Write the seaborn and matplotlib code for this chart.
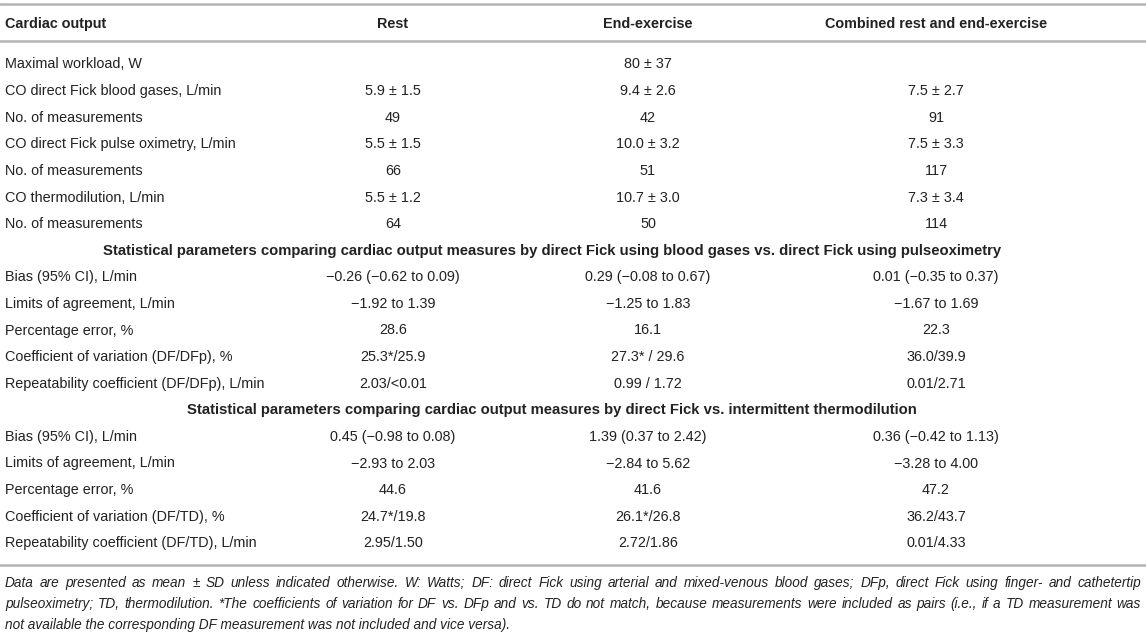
import matplotlib.pyplot as plt
import seaborn as sns

# table content
col_titles = ["Cardiac output", "Rest", "End-exercise", "Combined rest and end-exercise"]
row_labels = [
    "Maximal workload, W",
    "CO direct Fick blood gases, L/min",
    "No. of measurements",
    "CO direct Fick pulse oximetry, L/min",
    "No. of measurements",
    "CO thermodilution, L/min",
    "No. of measurements",
    "Statistical parameters comparing cardiac output measures by direct Fick using blood gases vs. direct Fick using pulseoximetry",
    "Bias (95% CI), L/min",
    "Limits of agreement, L/min",
    "Percentage error, %",
    "Coefficient of variation (DF/DFp), %",
    "Repeatability coefficient (DF/DFp), L/min",
    "Statistical parameters comparing cardiac output measures by direct Fick vs. intermittent thermodilution",
    "Bias (95% CI), L/min",
    "Limits of agreement, L/min",
    "Percentage error, %",
    "Coefficient of variation (DF/TD), %",
    "Repeatability coefficient (DF/TD), L/min",
]
rest_vals = ["", "5.9 ± 1.5", "49", "5.5 ± 1.5", "66", "5.5 ± 1.2", "64", None,
             "−0.26 (−0.62 to 0.09)", "−1.92 to 1.39", "28.6", "25.3*/25.9", "2.03/<0.01", None,
             "0.45 (−0.98 to 0.08)", "−2.93 to 2.03", "44.6", "24.7*/19.8", "2.95/1.50"]
end_vals = ["80 ± 37", "9.4 ± 2.6", "42", "10.0 ± 3.2", "51", "10.7 ± 3.0", "50", None,
            "0.29 (−0.08 to 0.67)", "−1.25 to 1.83", "16.1", "27.3* / 29.6", "0.99 / 1.72", None,
            "1.39 (0.37 to 2.42)", "−2.84 to 5.62", "41.6", "26.1*/26.8", "2.72/1.86"]
comb_vals = ["", "7.5 ± 2.7", "91", "7.5 ± 3.3", "117", "7.3 ± 3.4", "114", None,
             "0.01 (−0.35 to 0.37)", "−1.67 to 1.69", "22.3", "36.0/39.9", "0.01/2.71", None,
             "0.36 (−0.42 to 1.13)", "−3.28 to 4.00", "47.2", "36.2/43.7", "0.01/4.33"]
footnote = [
    "Data are presented as mean ± SD unless indicated otherwise. W: Watts; DF: direct Fick using arterial and mixed-venous blood gases; DFp, direct Fick using finger- and cathetertip",
    "pulseoximetry; TD, thermodilution. *The coefficients of variation for DF vs. DFp and vs. TD do not match, because measurements were included as pairs (i.e., if a TD measurement was",
    "not available the corresponding DF measurement was not included and vice versa).",
]

sns.set_theme(style="white")
plt.rcParams['font.family'] = ['Liberation Sans', 'DejaVu Sans']

W, H = 1146, 633
fig = plt.figure(figsize=(W / 100, H / 100), dpi=100)
ax = fig.add_axes([0, 0, 1, 1])
ax.set_xlim(0, W)
ax.set_ylim(H, 0)
ax.axis('off')

txt = '#222222'
rule = '#b4b4b4'
fs = 10.4
fs_head = 10.7

col_x = [5, 393, 648, 936]
ax.text(col_x[0], 24, col_titles[0], ha='left', va='center', fontsize=fs, weight='bold', color=txt)
for x, t in zip(col_x[1:], col_titles[1:]):
    ax.text(x, 24, t, ha='center', va='center', fontsize=fs, weight='bold', color=txt)

for yy in (4, 41, 565):
    ax.axhline(yy, color=rule, lw=1.8)

y0, dy = 64.5, 26.6
for i, lab in enumerate(row_labels):
    y = y0 + i * dy
    if rest_vals[i] is None:
        ax.text(552, y, lab, ha='center', va='center', fontsize=fs_head, weight='bold', color=txt)
        continue
    ax.text(col_x[0], y, lab, ha='left', va='center', fontsize=fs, color=txt)
    for x, v in zip(col_x[1:], (rest_vals[i], end_vals[i], comb_vals[i])):
        ax.text(x, y, v, ha='center', va='center', fontsize=fs, color=txt)

# footnote, first two lines justified to the table width
fig.canvas.draw()
rend = fig.canvas.get_renderer()
for k, line in enumerate(footnote):
    y = 583 + k * 21
    kw = dict(ha='left', va='center', fontsize=9.8, style='italic', color=txt)
    if k == len(footnote) - 1:
        ax.text(5, y, line, **kw)
        continue
    words = line.split(' ')
    items = [ax.text(0, y, w, **kw) for w in words]
    widths = [t.get_window_extent(rend).width for t in items]
    gap = (1141 - 5 - sum(widths)) / (len(words) - 1)
    x = 5
    for t, w in zip(items, widths):
        t.set_x(x)
        x += w + gap

fig.savefig("out.png", dpi=100)
